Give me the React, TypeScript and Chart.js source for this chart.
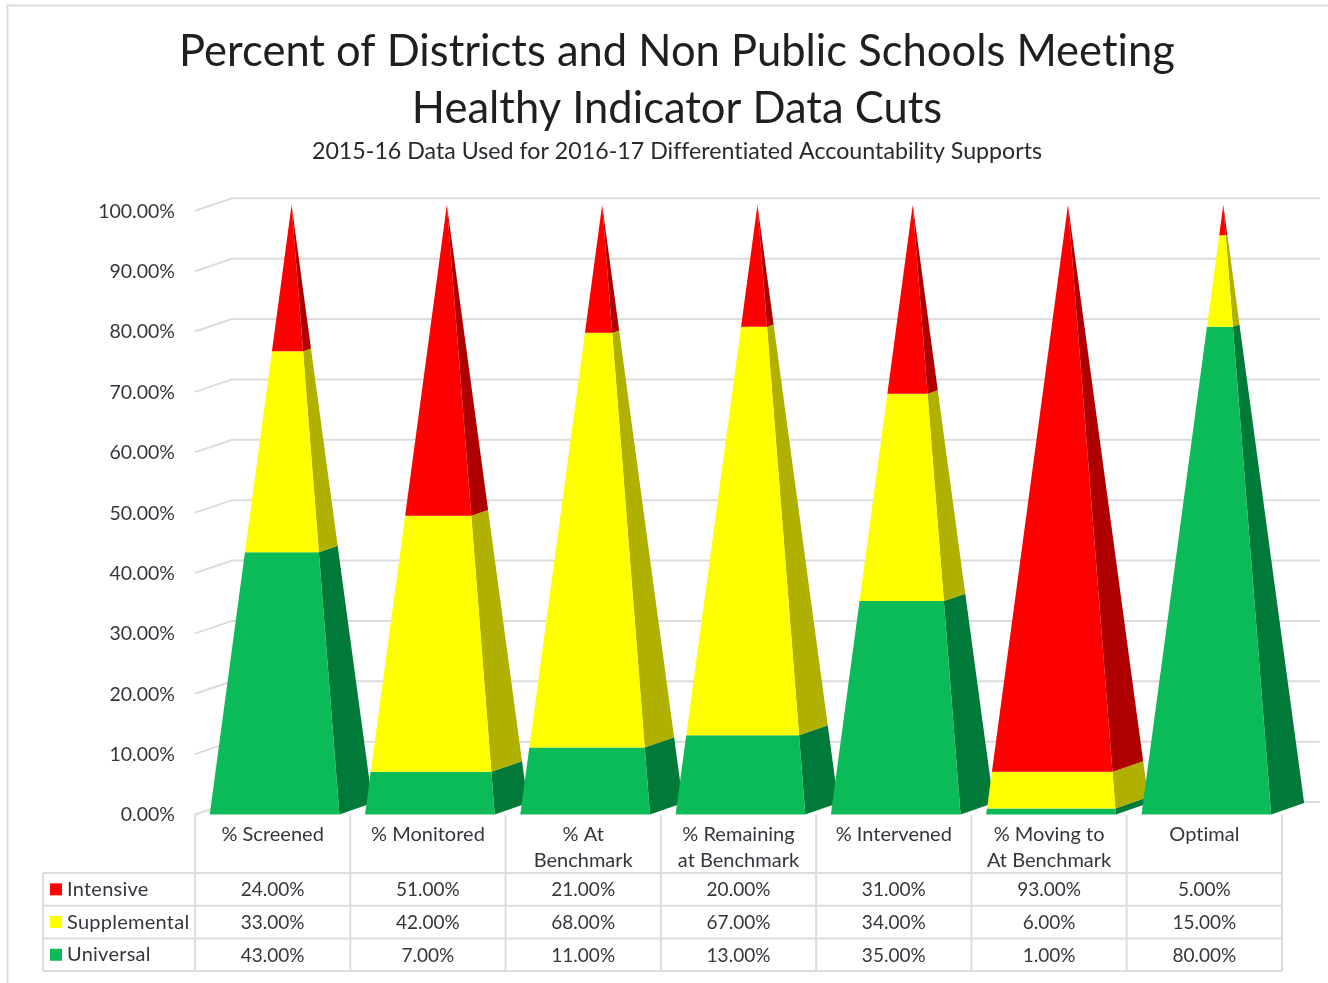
import React, { useEffect, useRef } from "react";
import { Chart, registerables } from "chart.js";

Chart.register(...registerables);

const categories: (string | string[])[] = [
  "% Screened",
  "% Monitored",
  ["% At", "Benchmark"],
  ["% Remaining", "at Benchmark"],
  "% Intervened",
  ["% Moving to", "At Benchmark"],
  "Optimal",
];
const intensive = [24, 51, 21, 20, 31, 93, 5];
const supplemental = [33, 42, 68, 67, 34, 6, 15];
const universal = [43, 7, 11, 13, 35, 1, 80];

const FONT = "Lato";
const TEXT = "#33373d";
const GRID = "#dcdcdc";
const colors = { universal: "#0abb57", supplemental: "#ffff00", intensive: "#ff0000" };
const sideColors = ["#017a39", "#b0b000", "#ae0000"];
const fmt = (v: number) => `${v.toFixed(2)}%`;

const tableRows = [
  { name: "Intensive", color: colors.intensive, values: intensive },
  { name: "Supplemental", color: colors.supplemental, values: supplemental },
  { name: "Universal", color: colors.universal, values: universal },
];

const fill = (ctx: CanvasRenderingContext2D, color: string, pts: number[][]) => {
  ctx.fillStyle = color;
  ctx.beginPath();
  pts.forEach(([x, y], i) => (i ? ctx.lineTo(x, y) : ctx.moveTo(x, y)));
  ctx.closePath();
  ctx.fill();
};

const pyramidPlugin = {
  id: "pyramids",
  beforeDraw(chart: any) {
    const { ctx, width, height } = chart;
    // a tiny non-zero spacing switches off Lato's "ti" ligature
    ctx.letterSpacing = "0.01px";
    ctx.save();
    ctx.fillStyle = "#fff";
    ctx.fillRect(0, 0, width, height);
    ctx.strokeStyle = GRID;
    ctx.lineWidth = 2;
    ctx.beginPath();
    ctx.moveTo(7.5, height);
    ctx.lineTo(7.5, 5.5);
    ctx.lineTo(width, 5.5);
    ctx.stroke();
    ctx.restore();
  },
  beforeDatasetsDraw(chart: any) {
    const { ctx, scales } = chart;
    const xs = scales.x;
    const ys = scales.y;
    const left = xs.left;
    ctx.save();
    // walls
    ctx.strokeStyle = GRID;
    ctx.lineWidth = 2;
    ys.ticks.forEach((t: any) => {
      const y = ys.getPixelForValue(t.value);
      ctx.beginPath();
      ctx.moveTo(left, y);
      ctx.lineTo(left + 37, y - 12.5);
      ctx.lineTo(xs.right + 38, y - 12.5);
      ctx.stroke();
    });
    // pyramids, left to right so nearer faces overlap
    const y0 = ys.getPixelForValue(0);
    const y100 = ys.getPixelForValue(100);
    const band = xs.width / categories.length;
    categories.forEach((_, i) => {
      const c = xs.getPixelForValue(i);
      const fl = c - band * 0.405;
      const fr = c + band * 0.43;
      const br = fr + 33;
      const ax = c + band * 0.122;
      const ay = y100 - 6;
      const by = y0 - 11.5;
      const lerp = (a: number, b: number, t: number) => a + (b - a) * t;
      chart.data.datasets.forEach((ds: any, d: number) => {
        const bar = chart.getDatasetMeta(d).data[i];
        const t0 = (y0 - bar.base) / (y0 - y100);
        const t1 = (y0 - bar.y) / (y0 - y100);
        fill(ctx, sideColors[d], [
          [lerp(fr, ax, t0), lerp(y0, ay, t0)],
          [lerp(br, ax, t0), lerp(by, ay, t0)],
          [lerp(br, ax, t1), lerp(by, ay, t1)],
          [lerp(fr, ax, t1), lerp(y0, ay, t1)],
        ]);
        fill(ctx, ds.backgroundColor, [
          [lerp(fl, ax, t0), lerp(y0, ay, t0)],
          [lerp(fr, ax, t0), lerp(y0, ay, t0)],
          [lerp(fr, ax, t1), lerp(y0, ay, t1)],
          [lerp(fl, ax, t1), lerp(y0, ay, t1)],
        ]);
      });
    });
    ctx.restore();
  },
  beforeDatasetDraw() {
    return false;
  },
  afterDraw(chart: any) {
    const { ctx, scales } = chart;
    const xs = scales.x;
    const top = xs.top;
    const rowTop = 873;
    const rowH = 32.7;
    const tableLeft = 43;
    const band = xs.width / categories.length;
    ctx.save();
    ctx.strokeStyle = GRID;
    ctx.lineWidth = 2;
    for (let i = 0; i <= categories.length; i++) {
      const x = xs.left + band * i;
      ctx.beginPath();
      ctx.moveTo(x, top);
      ctx.lineTo(x, rowTop + rowH * 3);
      ctx.stroke();
    }
    for (let r = 0; r <= tableRows.length; r++) {
      ctx.beginPath();
      ctx.moveTo(tableLeft, rowTop + rowH * r);
      ctx.lineTo(xs.right, rowTop + rowH * r);
      ctx.stroke();
    }
    ctx.beginPath();
    ctx.moveTo(tableLeft, rowTop);
    ctx.lineTo(tableLeft, rowTop + rowH * 3);
    ctx.stroke();
    ctx.textBaseline = "middle";
    tableRows.forEach((row, r) => {
      const cy = rowTop + rowH * r + rowH / 2;
      ctx.fillStyle = row.color;
      ctx.fillRect(50, cy - 6, 12, 12);
      ctx.fillStyle = TEXT;
      ctx.textAlign = "left";
      ctx.font = `20px ${FONT}`;
      ctx.letterSpacing = "0.25px";
      ctx.fillText(row.name, 67, cy);
      ctx.letterSpacing = "0.01px";
      ctx.textAlign = "center";
      ctx.font = `19px ${FONT}`;
      row.values.forEach((v, i) => ctx.fillText(fmt(v), xs.getPixelForValue(i), cy + 0.7));
    });
    ctx.restore();
  },
};

export default function App() {
  const ref = useRef<HTMLCanvasElement>(null);
  useEffect(() => {
    document.body.style.margin = "0";
    document.body.style.overflow = "hidden";
    const chart = new Chart(ref.current!, {
      type: "bar",
      data: {
        labels: categories as any,
        datasets: [
          { label: "Universal", data: universal, backgroundColor: colors.universal },
          { label: "Supplemental", data: supplemental, backgroundColor: colors.supplemental },
          { label: "Intensive", data: intensive, backgroundColor: colors.intensive },
        ],
      },
      options: {
        responsive: false,
        animation: false,
        devicePixelRatio: 1,
        layout: { padding: { left: 72, right: 46, top: 0, bottom: 0 } },
        plugins: {
          legend: { display: false },
          tooltip: { enabled: false },
          title: {
            display: true,
            text: [
              "Percent of Districts and Non Public Schools Meeting",
              "Healthy Indicator Data Cuts",
            ],
            color: "#1f1f1f",
            font: { family: FONT, size: 43.5, weight: "normal", lineHeight: 1.31 },
            padding: { top: 23, bottom: 1 },
          },
          subtitle: {
            display: true,
            text: "2015-16 Data Used for 2016-17 Differentiated Accountability Supports",
            color: "#26292e",
            font: { family: FONT, size: 23.2, weight: "normal", lineHeight: 1.2 },
            padding: { top: 0, bottom: 45 },
          },
        },
        scales: {
          x: {
            stacked: true,
            grid: { display: false, drawTicks: false },
            border: { display: false },
            afterFit(scale: any) {
              scale.height = 168.5;
            },
            ticks: {
              autoSkip: false,
              maxRotation: 0,
              minRotation: 0,
              padding: 7,
              color: TEXT,
              font: { family: FONT, size: 20, lineHeight: 1.3 },
            },
          },
          y: {
            stacked: true,
            min: 0,
            max: 100,
            grid: { display: false, drawTicks: false },
            border: { display: false },
            afterFit(scale: any) {
              scale.width = 123;
            },
            ticks: {
              stepSize: 10,
              padding: 20,
              labelOffset: 0.6,
              color: TEXT,
              font: { family: FONT, size: 19.5 },
              callback: (v: any) => fmt(Number(v)),
            },
          },
        },
      },
      plugins: [pyramidPlugin as any],
    });
    return () => chart.destroy();
  }, []);
  return (
    <canvas
      ref={ref}
      width={1328}
      height={983}
      style={{ display: "block", width: 1328, height: 983 }}
    />
  );
}
